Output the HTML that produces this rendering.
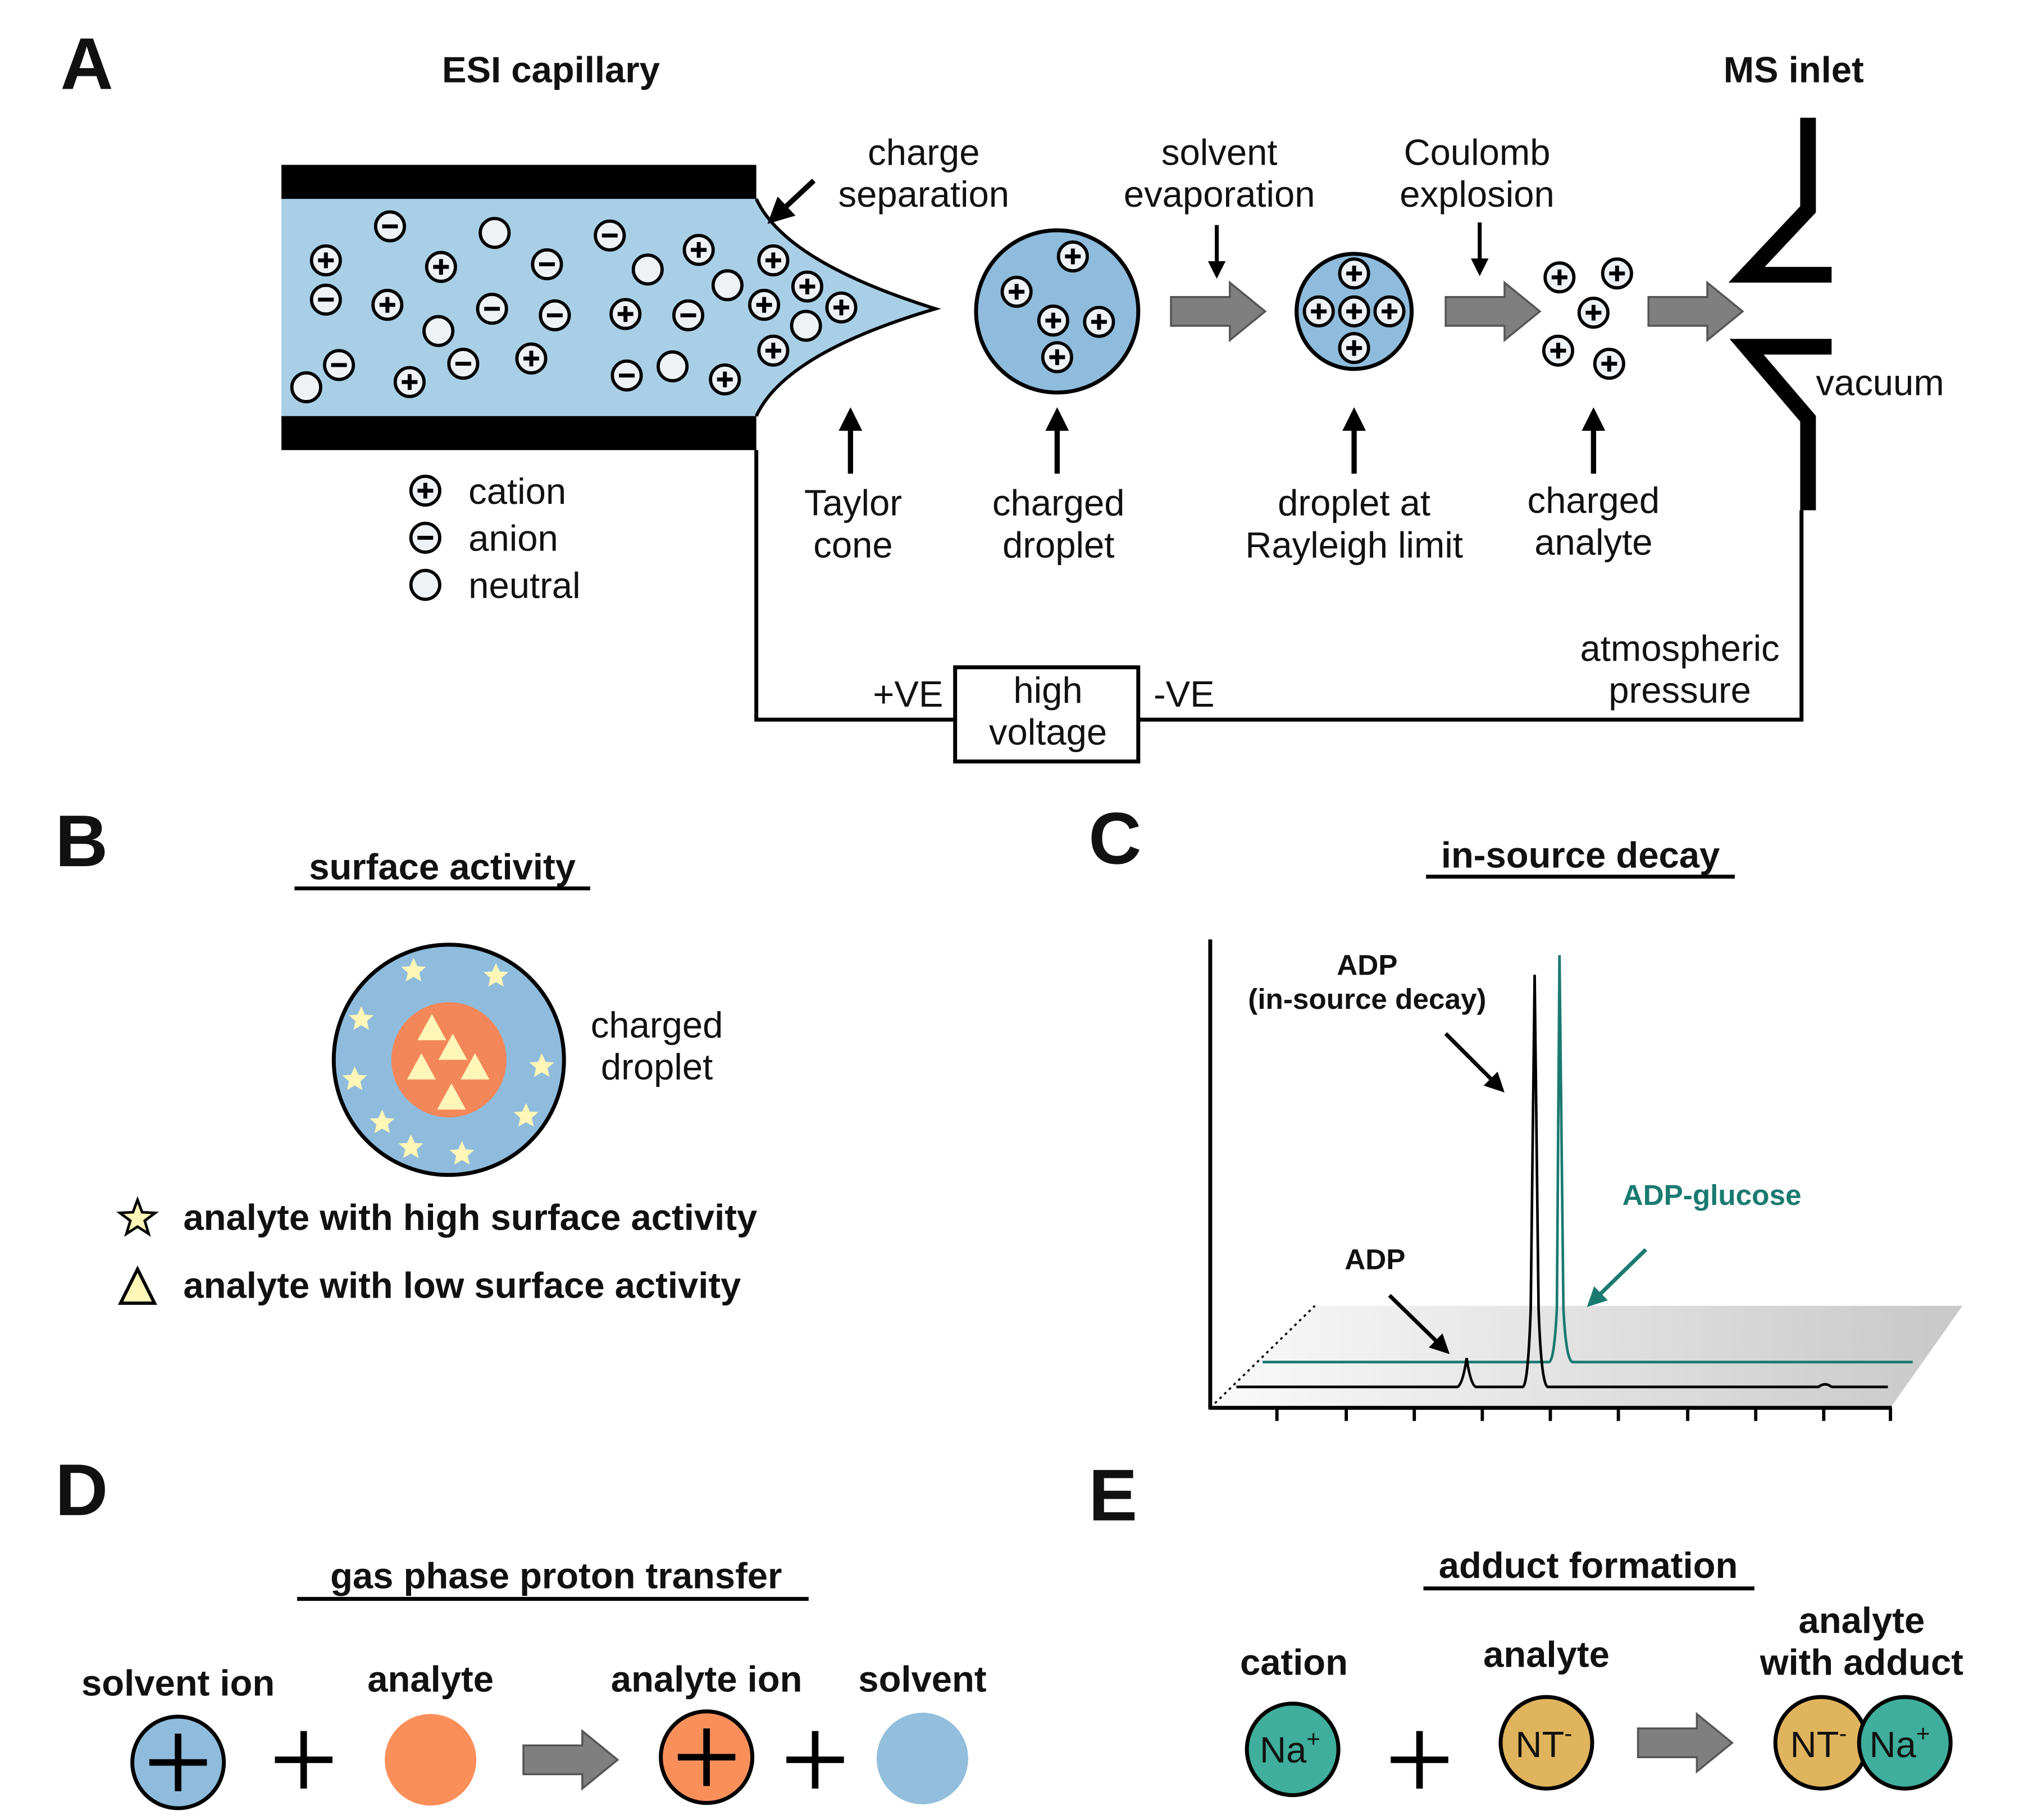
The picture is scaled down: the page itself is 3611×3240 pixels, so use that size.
<!DOCTYPE html>
<html><head><meta charset="utf-8"><style>
html,body{margin:0;padding:0;background:#fff}
svg{display:block}
text{font-family:"Liberation Sans",Arial,sans-serif;fill:#111}
.b{font-weight:bold}
</style></head><body>
<svg width="3611" height="3240" viewBox="0 0 1550 1391" xmlns="http://www.w3.org/2000/svg">
<defs>
<g id="p"><circle r="11" fill="#eef2f5" stroke="#000" stroke-width="2.5"/><path d="M-6 0H6M0 -6V6" stroke="#000" stroke-width="3"/></g>
<g id="m"><circle r="11" fill="#eef2f5" stroke="#000" stroke-width="2.5"/><path d="M-6 0H6" stroke="#000" stroke-width="3"/></g>
<g id="n"><circle r="11" fill="#eef2f5" stroke="#000" stroke-width="2.5"/></g>
<g id="ga"><path d="M0 -11H45V-22L72 0L45 22V11H0Z" fill="#7f7f7f" stroke="#555" stroke-width="1.5"/></g>
<marker id="ah" viewBox="0 0 8 8" markerWidth="4.5" markerHeight="4.5" refX="5" refY="4" orient="auto" markerUnits="strokeWidth"><path d="M0 0L8 4L0 8Z" fill="#000"/></marker>
<marker id="ah2" viewBox="0 0 8 8" markerWidth="5" markerHeight="5" refX="5" refY="4" orient="auto" markerUnits="strokeWidth"><path d="M0 0L8 4L0 8Z" fill="#000"/></marker>
<marker id="aht" viewBox="0 0 8 8" markerWidth="5" markerHeight="5" refX="5" refY="4" orient="auto" markerUnits="strokeWidth"><path d="M0 0L8 4L0 8Z" fill="#1a7a70"/></marker>
<g id="st"><path d="M0 -10L2.9 -3.5L9.5 -3.1L4.4 1.4L5.9 8.1L0 4.6L-5.9 8.1L-4.4 1.4L-9.5 -3.1L-2.9 -3.5Z" fill="#fff6b8"/></g>
<g id="tr"><path d="M0 -12L11 8H-11Z" fill="#fff6b8"/></g>
<linearGradient id="pl" x1="0" x2="1" y1="0" y2="0"><stop offset="0" stop-color="#fafafa"/><stop offset="1" stop-color="#c8c8c8"/></linearGradient>
</defs>

<!-- Panel A -->
<text x="46" y="68" font-size="56" class="b">A</text>
<text x="421" y="63" font-size="28" class="b" text-anchor="middle">ESI capillary</text>
<text x="1371" y="63" font-size="28" class="b" text-anchor="middle">MS inlet</text>

<path d="M215 152H578Q600 200 715 236Q600 270 578 318H215Z" fill="#a8cfe6"/>
<path d="M578 152Q600 200 715 236Q600 270 578 318" fill="none" stroke="#000" stroke-width="2.5"/>
<rect x="215" y="126" width="363" height="26" fill="#000"/>
<rect x="215" y="318" width="363" height="26" fill="#000"/>
<g>
<use href="#p" x="249" y="199"/><use href="#p" x="337" y="204"/><use href="#p" x="296" y="233"/><use href="#p" x="406" y="274"/><use href="#p" x="313" y="292"/><use href="#p" x="478" y="240"/><use href="#p" x="534" y="191"/><use href="#p" x="554" y="290"/><use href="#p" x="591" y="199"/><use href="#p" x="617" y="219"/><use href="#p" x="584" y="233"/><use href="#p" x="643" y="235"/><use href="#p" x="591" y="268"/>
<use href="#m" x="298" y="173"/><use href="#m" x="249" y="229"/><use href="#m" x="418" y="202"/><use href="#m" x="376" y="236"/><use href="#m" x="424" y="241"/><use href="#m" x="354" y="278"/><use href="#m" x="259" y="279"/><use href="#m" x="466" y="180"/><use href="#m" x="526" y="241"/><use href="#m" x="479" y="287"/>
<use href="#n" x="378" y="178"/><use href="#n" x="335" y="253"/><use href="#n" x="234" y="296"/><use href="#n" x="495" y="206"/><use href="#n" x="556" y="218"/><use href="#n" x="514" y="280"/><use href="#n" x="616" y="249"/>
</g>
<line x1="622" y1="138" x2="592" y2="166" stroke="#000" stroke-width="4" marker-end="url(#ah2)"/>
<text x="706" y="126" font-size="28" text-anchor="middle">charge</text>
<text x="706" y="158" font-size="28" text-anchor="middle">separation</text>

<circle cx="808" cy="238" r="62" fill="#8fbcdc" stroke="#000" stroke-width="3"/>
<use href="#p" x="820" y="196"/><use href="#p" x="777" y="223"/><use href="#p" x="805" y="245"/><use href="#p" x="840" y="246"/><use href="#p" x="808" y="273"/>
<use href="#ga" x="895" y="238"/>
<circle cx="1035" cy="238" r="44" fill="#8fbcdc" stroke="#000" stroke-width="3"/>
<use href="#p" x="1035" y="209"/><use href="#p" x="1008" y="238"/><use href="#p" x="1035" y="238"/><use href="#p" x="1062" y="238"/><use href="#p" x="1035" y="266"/>
<use href="#ga" x="1105" y="238"/>
<use href="#p" x="1192" y="212"/><use href="#p" x="1236" y="209"/><use href="#p" x="1218" y="239"/><use href="#p" x="1191" y="268"/><use href="#p" x="1230" y="278"/>
<use href="#ga" x="1260" y="238"/>
<path d="M1382 90V160L1335 210H1400" fill="none" stroke="#000" stroke-width="12"/>
<path d="M1400 265H1335L1382 320V390" fill="none" stroke="#000" stroke-width="12"/>
<text x="1388" y="302" font-size="28">vacuum</text>

<text x="932" y="126" font-size="28" text-anchor="middle">solvent</text>
<text x="932" y="158" font-size="28" text-anchor="middle">evaporation</text>
<text x="1129" y="126" font-size="28" text-anchor="middle">Coulomb</text>
<text x="1129" y="158" font-size="28" text-anchor="middle">explosion</text>
<line x1="930" y1="172" x2="930" y2="208" stroke="#000" stroke-width="3" marker-end="url(#ah)"/>
<line x1="1131" y1="170" x2="1131" y2="206" stroke="#000" stroke-width="3" marker-end="url(#ah)"/>
<g stroke="#000" stroke-width="4">
<line x1="650" y1="362" x2="650" y2="318" marker-end="url(#ah)"/>
<line x1="808" y1="362" x2="808" y2="318" marker-end="url(#ah)"/>
<line x1="1035" y1="362" x2="1035" y2="318" marker-end="url(#ah)"/>
<line x1="1218" y1="362" x2="1218" y2="318" marker-end="url(#ah)"/>
</g>
<text x="652" y="394" font-size="28" text-anchor="middle">Taylor</text>
<text x="652" y="426" font-size="28" text-anchor="middle">cone</text>
<text x="809" y="394" font-size="28" text-anchor="middle">charged</text>
<text x="809" y="426" font-size="28" text-anchor="middle">droplet</text>
<text x="1035" y="394" font-size="28" text-anchor="middle">droplet at</text>
<text x="1035" y="426" font-size="28" text-anchor="middle">Rayleigh limit</text>
<text x="1218" y="392" font-size="28" text-anchor="middle">charged</text>
<text x="1218" y="424" font-size="28" text-anchor="middle">analyte</text>

<use href="#p" x="325" y="375"/><use href="#m" x="325" y="411"/><use href="#n" x="325" y="447"/>
<text x="358" y="385" font-size="28">cation</text>
<text x="358" y="421" font-size="28">anion</text>
<text x="358" y="457" font-size="28">neutral</text>

<path d="M578 344V550H730M870 550H1377V390" fill="none" stroke="#000" stroke-width="3"/>
<rect x="730" y="510" width="140" height="72" fill="#fff" stroke="#000" stroke-width="3"/>
<text x="801" y="537" font-size="28" text-anchor="middle">high</text>
<text x="801" y="569" font-size="28" text-anchor="middle">voltage</text>
<text x="694" y="540" font-size="28" text-anchor="middle">+VE</text>
<text x="905" y="540" font-size="28" text-anchor="middle">-VE</text>
<text x="1284" y="505" font-size="28" text-anchor="middle">atmospheric</text>
<text x="1284" y="537" font-size="28" text-anchor="middle">pressure</text>

<!-- Panel B -->
<text x="42" y="662" font-size="56" class="b">B</text>
<text x="338" y="672" font-size="28" class="b" text-anchor="middle">surface activity</text>
<line x1="225" y1="679" x2="451" y2="679" stroke="#000" stroke-width="3"/>
<circle cx="343" cy="810" r="88" fill="#8fbcdc" stroke="#000" stroke-width="3"/>
<circle cx="343" cy="810" r="44" fill="#f4875a"/>
<use href="#tr" x="330" y="787"/><use href="#tr" x="346" y="802"/><use href="#tr" x="322" y="817"/><use href="#tr" x="363" y="817"/><use href="#tr" x="345" y="840"/>
<use href="#st" x="316" y="742"/><use href="#st" x="379" y="746"/><use href="#st" x="276" y="779"/><use href="#st" x="271" y="825"/><use href="#st" x="414" y="815"/><use href="#st" x="402" y="853"/><use href="#st" x="292" y="858"/><use href="#st" x="314" y="877"/><use href="#st" x="353" y="882"/>
<text x="502" y="793" font-size="28" text-anchor="middle">charged</text>
<text x="502" y="825" font-size="28" text-anchor="middle">droplet</text>
<path d="M105 917L108.5 926.5L118.5 927L110.5 933L113.5 943L105 937.5L96.5 943L99.5 933L91.5 927L101.5 926.5Z" fill="#fff6b8" stroke="#000" stroke-width="2"/>
<path d="M105 970L118 996H92Z" fill="#fff6b8" stroke="#000" stroke-width="2.5"/>
<text x="140" y="940" font-size="28" class="b">analyte with high surface activity</text>
<text x="140" y="992" font-size="28" class="b">analyte with low surface activity</text>

<!-- Panel C -->
<text x="832" y="660" font-size="56" class="b">C</text>
<text x="1208" y="663" font-size="28" class="b" text-anchor="middle">in-source decay</text>
<line x1="1090" y1="670" x2="1326" y2="670" stroke="#000" stroke-width="3"/>
<polygon points="1005,998 1500,998 1445,1076 925,1076" fill="url(#pl)"/>
<line x1="925" y1="1076" x2="1005" y2="998" stroke="#000" stroke-width="1.5" stroke-dasharray="2,3"/>
<line x1="925" y1="718" x2="925" y2="1077" stroke="#000" stroke-width="3"/>
<line x1="924" y1="1076" x2="1446" y2="1076" stroke="#000" stroke-width="3"/>
<g stroke="#000" stroke-width="2.5">
<line x1="976" y1="1076" x2="976" y2="1086"/><line x1="1029" y1="1076" x2="1029" y2="1086"/><line x1="1081" y1="1076" x2="1081" y2="1086"/><line x1="1133" y1="1076" x2="1133" y2="1086"/><line x1="1185" y1="1076" x2="1185" y2="1086"/><line x1="1237" y1="1076" x2="1237" y2="1086"/><line x1="1290" y1="1076" x2="1290" y2="1086"/><line x1="1342" y1="1076" x2="1342" y2="1086"/><line x1="1394" y1="1076" x2="1394" y2="1086"/><line x1="1445" y1="1076" x2="1445" y2="1086"/>
</g>
<path d="M965 1041H1184Q1188 1040 1190 1000L1192 730L1195 1000Q1197 1040 1202 1041H1462" fill="none" stroke="#1a7a70" stroke-width="2"/>
<path d="M945 1060H1114Q1118 1058 1121 1038Q1124 1058 1128 1060H1164Q1168 1058 1170 1000L1173 745L1176 1000Q1178 1058 1183 1060H1390Q1395 1056 1400 1060H1443" fill="none" stroke="#000" stroke-width="2"/>
<text x="1045" y="745" font-size="22" class="b" text-anchor="middle">ADP</text>
<text x="1045" y="771" font-size="22" class="b" text-anchor="middle">(in-source decay)</text>
<line x1="1105" y1="790" x2="1146" y2="831" stroke="#000" stroke-width="3" marker-end="url(#ah2)"/>
<text x="1240" y="921" font-size="22" class="b" style="fill:#1a7a70">ADP-glucose</text>
<line x1="1258" y1="955" x2="1217" y2="995" stroke="#1a7a70" stroke-width="3" marker-end="url(#aht)"/>
<text x="1051" y="970" font-size="22" class="b" text-anchor="middle">ADP</text>
<line x1="1062" y1="990" x2="1104" y2="1031" stroke="#000" stroke-width="3" marker-end="url(#ah2)"/>

<!-- Panel D -->
<text x="42" y="1158" font-size="56" class="b">D</text>
<text x="425" y="1214" font-size="28" class="b" text-anchor="middle">gas phase proton transfer</text>
<line x1="227" y1="1222" x2="618" y2="1222" stroke="#000" stroke-width="3"/>
<text x="136" y="1296" font-size="28" class="b" text-anchor="middle">solvent ion</text>
<text x="329" y="1293" font-size="28" class="b" text-anchor="middle">analyte</text>
<text x="540" y="1293" font-size="28" class="b" text-anchor="middle">analyte ion</text>
<text x="705" y="1293" font-size="28" class="b" text-anchor="middle">solvent</text>
<circle cx="136" cy="1347" r="35" fill="#8fbcdc" stroke="#000" stroke-width="3"/>
<path d="M114 1347H158M136 1325V1369" stroke="#000" stroke-width="5"/>
<path d="M210 1345H254M232 1323V1367" stroke="#000" stroke-width="5"/>
<circle cx="329" cy="1345" r="35" fill="#fb8f5a"/>
<use href="#ga" x="400" y="1345"/>
<circle cx="540" cy="1343" r="35" fill="#fb8f5a" stroke="#000" stroke-width="3"/>
<path d="M518 1343H562M540 1321V1365" stroke="#000" stroke-width="5"/>
<path d="M601 1345H645M623 1323V1367" stroke="#000" stroke-width="5"/>
<circle cx="705" cy="1344" r="35" fill="#93bfdc"/>

<!-- Panel E -->
<text x="832" y="1162" font-size="56" class="b">E</text>
<text x="1214" y="1206" font-size="28" class="b" text-anchor="middle">adduct formation</text>
<line x1="1088" y1="1214" x2="1341" y2="1214" stroke="#000" stroke-width="3"/>
<text x="989" y="1280" font-size="28" class="b" text-anchor="middle">cation</text>
<text x="1182" y="1274" font-size="28" class="b" text-anchor="middle">analyte</text>
<text x="1423" y="1248" font-size="28" class="b" text-anchor="middle">analyte</text>
<text x="1423" y="1280" font-size="28" class="b" text-anchor="middle">with adduct</text>
<circle cx="988" cy="1337" r="35" fill="#3fae9c" stroke="#000" stroke-width="3"/>
<text x="986" y="1347" font-size="28" text-anchor="middle">Na<tspan font-size="18" dy="-12">+</tspan></text>
<path d="M1063 1345H1107M1085 1323V1367" stroke="#000" stroke-width="5"/>
<circle cx="1182" cy="1332" r="35" fill="#e0b45c" stroke="#000" stroke-width="3"/>
<text x="1180" y="1343" font-size="28" text-anchor="middle">NT<tspan font-size="18" dy="-12">-</tspan></text>
<use href="#ga" x="1252" y="1332"/>
<circle cx="1392" cy="1332" r="35" fill="#e0b45c" stroke="#000" stroke-width="3"/>
<circle cx="1456" cy="1332" r="35" fill="#3fae9c" stroke="#000" stroke-width="3"/>
<text x="1390" y="1343" font-size="28" text-anchor="middle">NT<tspan font-size="18" dy="-12">-</tspan></text>
<text x="1452" y="1343" font-size="28" text-anchor="middle">Na<tspan font-size="18" dy="-12">+</tspan></text>
</svg>
</body></html>
